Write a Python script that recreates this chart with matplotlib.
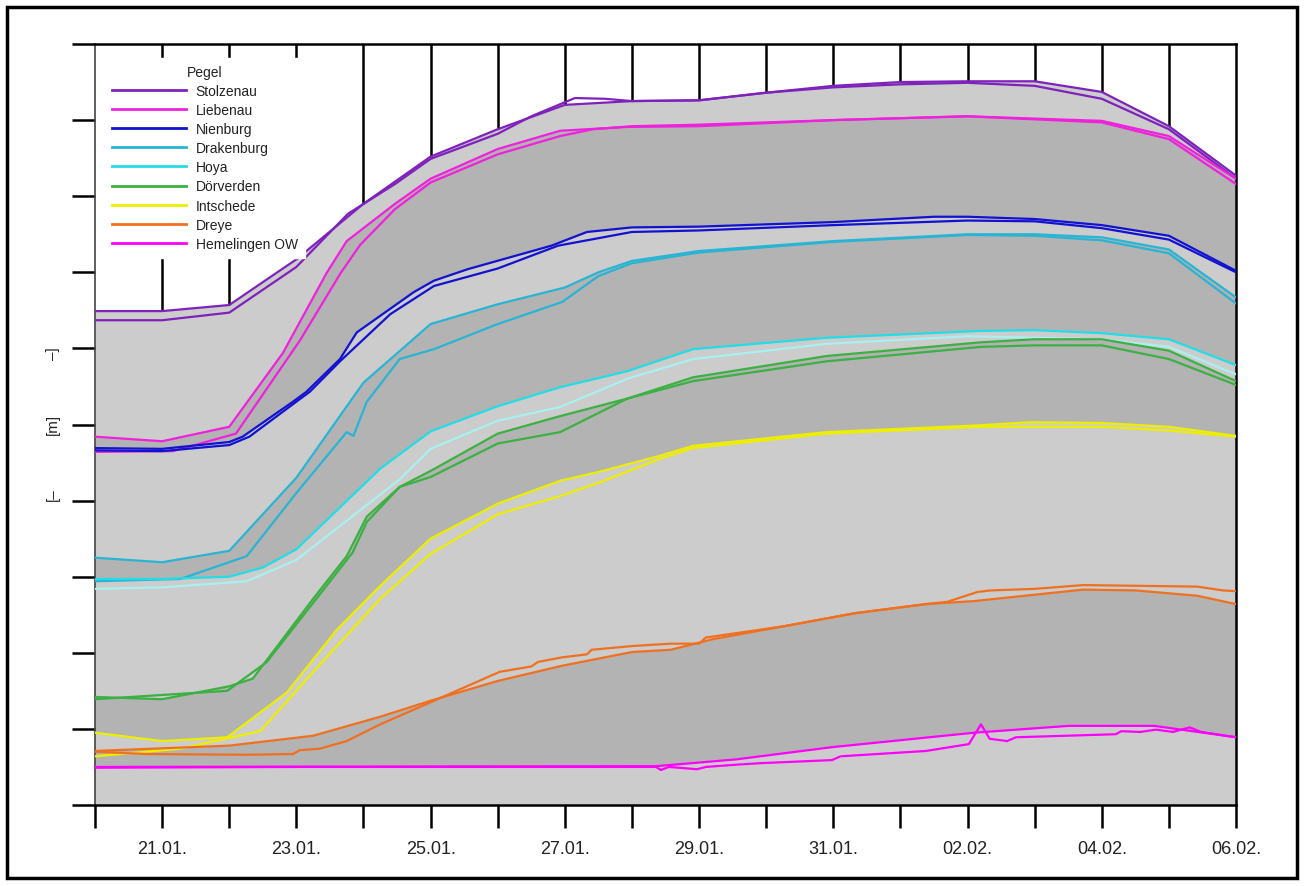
import matplotlib.pyplot as plt
from matplotlib.lines import Line2D
from matplotlib.patches import Rectangle

plt.rcParams["font.family"] = ["Liberation Sans", "DejaVu Sans"]

# time axis: days since 20.01., water levels in m (relative scale)
tick_days = list(range(18))
tick_labels = ["", "21.01.", "", "23.01.", "", "25.01.", "", "27.01.", "", "29.01.",
               "", "31.01.", "", "02.02.", "", "04.02.", "", "06.02."]

stolzenau_t_a = list(range(18))
stolzenau_a = [6.49, 6.49, 6.57, 7.17, 7.90, 8.52, 8.88, 9.20, 9.25, 9.26, 9.36, 9.45,
               9.50, 9.51, 9.51, 9.37, 8.92, 8.27]
stolzenau_t_b = [0, 1, 2, 3, 3.77, 4.47, 5, 6, 6.5, 7.15, 7.6, 8, 9, 10, 11, 12, 13, 14, 15, 16, 17]
stolzenau_b = [6.37, 6.37, 6.47, 7.07, 7.77, 8.16, 8.49, 8.82, 9.05, 9.29, 9.28, 9.25, 9.26,
               9.36, 9.43, 9.47, 9.49, 9.45, 9.28, 8.88, 8.23]

liebenau_t_a = [0, 1, 2, 2.8, 3.45, 3.75, 4.47, 5, 6, 6.93, 7.93, 9, 11, 13, 15, 16, 17]
liebenau_a = [4.84, 4.78, 4.97, 5.94, 6.99, 7.41, 7.90, 8.23, 8.62, 8.86, 8.91, 8.92, 9.00,
              9.05, 8.99, 8.79, 8.23]
liebenau_t_b = [0, 1.16, 2.1, 3.05, 3.66, 3.95, 4.47, 5, 6, 6.93, 7.42, 8, 9, 11, 13, 15, 16, 17]
liebenau_b = [4.64, 4.65, 4.88, 6.10, 6.99, 7.36, 7.83, 8.18, 8.55, 8.79, 8.88, 8.92, 8.94,
              9.00, 9.05, 8.97, 8.75, 8.16]

nienburg_t_a = [0, 1, 2, 2.2, 2.95, 3.15, 3.65, 3.9, 4.75, 5.05, 5.55, 6.8, 7.33, 8, 9, 11,
                12.5, 13, 14, 15, 16, 17]
nienburg_a = [4.69, 4.68, 4.77, 4.84, 5.30, 5.43, 5.86, 6.21, 6.74, 6.89, 7.04, 7.35, 7.53,
              7.59, 7.60, 7.66, 7.73, 7.73, 7.70, 7.62, 7.48, 7.02]
nienburg_t_b = [0, 1, 2, 2.3, 3, 3.2, 3.65, 4.4, 5.05, 6, 6.9, 8, 9, 11, 13, 14, 15, 16, 17]
nienburg_b = [4.66, 4.65, 4.73, 4.84, 5.30, 5.43, 5.83, 6.45, 6.82, 7.05, 7.35, 7.53, 7.55,
              7.62, 7.68, 7.67, 7.58, 7.43, 7.00]

drakenburg_t_a = [0, 1, 2, 3, 4, 5, 6, 7, 7.5, 8, 9, 11, 13, 14, 15, 16, 17]
drakenburg_a = [3.25, 3.19, 3.34, 4.30, 5.55, 6.32, 6.58, 6.80, 7.00, 7.15, 7.28, 7.41, 7.50,
                7.50, 7.46, 7.30, 6.67]
drakenburg_t_b = [0, 1.27, 2.26, 3, 3.75, 3.85, 4.05, 4.54, 5.05, 6, 6.96, 7.5, 8, 9, 11, 13,
                  14, 15, 16, 17]
drakenburg_b = [2.94, 2.97, 3.27, 4.10, 4.90, 4.85, 5.30, 5.86, 5.99, 6.32, 6.61, 6.95, 7.12,
                7.26, 7.40, 7.49, 7.48, 7.42, 7.25, 6.59]

hoya_t_a = [0, 1, 2, 2.5, 3, 4.25, 5, 6, 6.93, 7.93, 8.91, 10.9, 13.2, 14, 15, 16, 17]
hoya_a = [2.97, 2.97, 3.00, 3.12, 3.36, 4.42, 4.91, 5.24, 5.49, 5.70, 5.99, 6.14, 6.23, 6.24,
          6.20, 6.12, 5.78]
hoya_t_b = [0, 1, 2.26, 3, 4.54, 5, 6, 6.93, 7.93, 8.91, 10.9, 13, 15, 16, 17]
hoya_b = [2.84, 2.86, 2.94, 3.22, 4.28, 4.68, 5.05, 5.23, 5.60, 5.86, 6.06, 6.16, 6.12, 6.02, 5.66]

doerverden_t_a = [0, 1, 2, 2.35, 3.25, 3.75, 4.05, 4.54, 5, 6, 6.93, 7.93, 8.91, 10.9, 13.2,
                  14, 15, 16, 17]
doerverden_a = [1.42, 1.39, 1.56, 1.66, 2.71, 3.27, 3.79, 4.18, 4.39, 4.88, 5.11, 5.34, 5.62,
                5.90, 6.08, 6.12, 6.12, 5.97, 5.57]
doerverden_t_b = [0, 1.97, 2.56, 3.84, 4.05, 4.54, 5, 6, 6.93, 7.93, 8.91, 10.9, 13.2, 14, 15,
                  16, 17]
doerverden_b = [1.39, 1.50, 1.88, 3.32, 3.72, 4.18, 4.31, 4.75, 4.90, 5.34, 5.57, 5.83, 6.02,
                6.04, 6.04, 5.86, 5.52]

intschede_t_a = [0, 1, 1.97, 2.86, 3.6, 4.25, 5, 6, 6.93, 7.52, 8.42, 8.91, 10.9, 13.2, 13.93,
                 15, 16, 17]
intschede_a = [0.95, 0.84, 0.89, 1.48, 2.30, 2.88, 3.50, 3.96, 4.26, 4.38, 4.59, 4.72, 4.90,
               4.99, 5.03, 5.02, 4.97, 4.85]
intschede_t_b = [0, 1.27, 2.46, 3.25, 4.25, 5, 6, 6.93, 7.52, 8.42, 8.91, 10.9, 13.2, 15, 16, 17]
intschede_b = [0.64, 0.74, 0.97, 1.75, 2.71, 3.30, 3.82, 4.06, 4.24, 4.55, 4.69, 4.88, 4.97,
               4.97, 4.92, 4.84]

dreye_t_a = [0, 2, 3.25, 4.25, 5, 6, 6.96, 8, 8.58, 9.21, 10.27, 11.32, 12.38, 13.1, 14.72,
             15.5, 16.42, 17]
dreye_a = [0.71, 0.78, 0.91, 1.16, 1.37, 1.63, 1.83, 2.01, 2.04, 2.18, 2.35, 2.52, 2.64, 2.68,
           2.83, 2.82, 2.75, 2.64]
dreye_t_b = [0, 0.77, 2.26, 2.95, 3.05, 3.35, 3.75, 4.25, 5, 6.03, 6.5, 6.6, 6.96, 7.33, 7.4,
             8.02, 8.58, 9.0, 9.1, 10.27, 11.32, 12.38, 12.7, 13.15, 13.35, 14.0, 14.72, 16.42,
             16.8, 17]
dreye_b = [0.70, 0.67, 0.66, 0.67, 0.72, 0.74, 0.84, 1.06, 1.35, 1.75, 1.82, 1.88, 1.94, 1.98,
           2.04, 2.09, 2.12, 2.12, 2.20, 2.35, 2.52, 2.64, 2.67, 2.80, 2.82, 2.84, 2.89, 2.87,
           2.82, 2.81]

hemelingen_t_a = [0, 8.36, 9.56, 10.98, 13.1, 14.51, 15.78, 17]
hemelingen_a = [0.50, 0.51, 0.60, 0.76, 0.95, 1.04, 1.04, 0.89]
hemelingen_t_b = [0, 3, 6, 8.36, 8.43, 8.55, 8.97, 9.1, 9.56, 9.92, 10.98, 11.11, 12.38, 13.02,
                  13.2, 13.33, 13.59, 13.72, 15.21, 15.29, 15.57, 15.81, 16.06, 16.31, 16.48, 17]
hemelingen_b = [0.49, 0.50, 0.50, 0.50, 0.46, 0.50, 0.47, 0.50, 0.53, 0.55, 0.59, 0.64, 0.71,
                0.80, 1.06, 0.87, 0.84, 0.89, 0.93, 0.97, 0.96, 0.99, 0.96, 1.02, 0.96, 0.89]

gauges = ["Stolzenau", "Liebenau", "Nienburg", "Drakenburg", "Hoya", "Dörverden",
          "Intschede", "Dreye", "Hemelingen OW"]
colors = ["#7f22bb", "#ee22dd", "#1212d0", "#2ab4d4", "#22dde6", "#3cb043",
          "#eeee00", "#f07020", "#ff00ff"]
colors_b = ["#7f22bb", "#ee22dd", "#1212d0", "#2ab4d4", "#aaf0f0", "#3cb043",
            "#eeee00", "#f07020", "#ff00ff"]
series = [
    (stolzenau_t_a, stolzenau_a, stolzenau_t_b, stolzenau_b),
    (liebenau_t_a, liebenau_a, liebenau_t_b, liebenau_b),
    (nienburg_t_a, nienburg_a, nienburg_t_b, nienburg_b),
    (drakenburg_t_a, drakenburg_a, drakenburg_t_b, drakenburg_b),
    (hoya_t_a, hoya_a, hoya_t_b, hoya_b),
    (doerverden_t_a, doerverden_a, doerverden_t_b, doerverden_b),
    (intschede_t_a, intschede_a, intschede_t_b, intschede_b),
    (dreye_t_a, dreye_a, dreye_t_b, dreye_b),
    (hemelingen_t_a, hemelingen_a, hemelingen_t_b, hemelingen_b),
]

light, dark = "#cccccc", "#b3b3b3"

fig = plt.figure(figsize=(13.04, 8.87), dpi=100)
ax = fig.add_axes([95 / 1304, 1 - 806 / 887, 1141 / 1304, 761 / 887])

# stacked bands: each gauge fills down to the bottom, alternating grey
for i, (ta, ha, tb, hb) in enumerate(series):
    ax.fill_between(ta, ha, 0, color=light if i % 2 == 0 else dark, lw=0, zorder=1)

# drop lines from the top frame to the upper gauge
ax.vlines(stolzenau_t_a[1:-1], stolzenau_a[1:-1], 10, color="black", lw=1.8, zorder=2)

for (ta, ha, tb, hb), ca, cb in zip(series, colors, colors_b):
    ax.plot(ta, ha, color=ca, lw=1.6, zorder=3)
    ax.plot(tb, hb, color=cb, lw=1.6, zorder=3)

ax.set_xlim(0, 17)
ax.set_ylim(0, 10)
ax.set_xticks(tick_days)
ax.set_xticklabels(tick_labels, fontsize=13, color="#222222")
ax.set_yticks(range(11))
ax.set_yticklabels([])
ax.tick_params(axis="both", direction="out", length=16.5, width=1.8, color="black")
ax.tick_params(axis="x", pad=9)
for side in ["top", "right", "bottom", "left"]:
    ax.spines[side].set_linewidth(1.8)
ax.spines["left"].set_color("#444444")
ax.spines["left"].set_linewidth(1.2)

handles = [Line2D([], [], color=c, lw=2.0) for c in colors]
leg = ax.legend(handles, gauges, title="Pegel", loc="upper left",
                bbox_to_anchor=(0.009, 0.982), fontsize=10, title_fontsize=10,
                handlelength=5.3, handletextpad=0.72, labelspacing=0.37,
                frameon=True, fancybox=False, borderpad=0.5, borderaxespad=0)
leg.get_frame().set_facecolor("white")
leg.get_frame().set_edgecolor("white")
leg.get_frame().set_alpha(1)
leg.get_title().set_color("#222222")
for t in leg.get_texts():
    t.set_color("#222222")

# unit label beside the axis
for txt, ypix in [("[–", 495), ("[m]", 424), ("–]", 354)]:
    fig.text(53 / 1304, 1 - ypix / 887, txt, rotation=90, ha="center", va="center",
             fontsize=11, color="#222222")

fig.patches.append(Rectangle((7 / 1304, 1 - 879 / 887), 1290 / 1304, 871 / 887,
                             transform=fig.transFigure, fill=False, lw=2.5,
                             edgecolor="black"))

fig.savefig("out.png", dpi=100)
